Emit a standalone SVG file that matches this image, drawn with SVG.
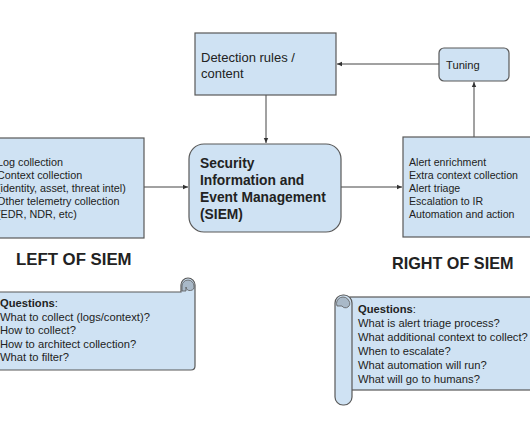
<svg xmlns="http://www.w3.org/2000/svg" width="530" height="442" viewBox="0 0 530 442">
<defs>
<style>
.box{fill:#cfe2f3;stroke:#595959;stroke-width:1.2}
.t{font-family:"Liberation Sans",Arial,sans-serif;fill:#222}
.b{font-weight:bold}
.ln{stroke:#444;stroke-width:1;fill:none}
</style>
<marker id="ah" markerWidth="6" markerHeight="6" refX="5" refY="3" orient="auto" markerUnits="userSpaceOnUse">
<path d="M0,0.8 L5,3 L0,5.2 Z" fill="#333"/>
</marker>
</defs>
<rect width="530" height="442" fill="#fff"/>
<g id="connectors">
<line class="ln" x1="439" y1="64" x2="337" y2="64" marker-end="url(#ah)"/>
<line class="ln" x1="266" y1="95" x2="266" y2="143" marker-end="url(#ah)"/>
<line class="ln" x1="144" y1="187" x2="188" y2="187" marker-end="url(#ah)"/>
<line class="ln" x1="341" y1="187" x2="402" y2="187" marker-end="url(#ah)"/>
<line class="ln" x1="474" y1="137" x2="474" y2="82" marker-end="url(#ah)"/>
</g>
<g id="detection">
<rect class="box" x="195" y="33" width="141" height="62"/>
<text class="t" x="201" y="62" font-size="13">Detection rules /</text>
<text class="t" x="201" y="78" font-size="13">content</text>
</g>
<g id="tuning">
<rect class="box" x="439" y="48" width="70" height="33" rx="5"/>
<text class="t" x="446" y="69" font-size="11.2">Tuning</text>
</g>
<g id="siem">
<rect class="box" x="189" y="144" width="152" height="88" rx="15"/>
<text class="t b" x="200" y="168" font-size="13.8">Security</text>
<text class="t b" x="200" y="185" font-size="13.8">Information and</text>
<text class="t b" x="200" y="202" font-size="13.8">Event Management</text>
<text class="t b" x="200" y="219" font-size="13.8">(SIEM)</text>
</g>
<g id="left">
<rect class="box" x="-10" y="138" width="154" height="100"/>
<g class="t" font-size="10.8">
<text x="-3" y="166">Log collection</text>
<text x="-3" y="179">Context collection</text>
<text x="-3" y="192">(identity, asset, threat intel)</text>
<text x="-3" y="205">Other telemetry collection</text>
<text x="-3" y="218">(EDR, NDR, etc)</text>
</g>
</g>
<g id="right">
<rect class="box" x="403" y="137" width="140" height="100"/>
<g class="t" font-size="10.6">
<text x="409" y="166">Alert enrichment</text>
<text x="409" y="179">Extra context collection</text>
<text x="409" y="192">Alert triage</text>
<text x="409" y="205">Escalation to IR</text>
<text x="409" y="218">Automation and action</text>
</g>
</g>
<g id="left-title">
<text class="t b" x="16" y="265" font-size="16.8" fill="#000">LEFT OF SIEM</text>
</g>
<g id="right-title">
<text class="t b" x="392" y="269" font-size="16.2">RIGHT OF SIEM</text>
</g>
<g id="left-questions">
<path class="box" d="M-10 292 H181 V285 A7 7 0 0 1 195 285 V366 Q195 370 191 370 H-10 Z"/>
<path d="M182 291 V286 A6 6 0 0 1 194 286 A4 4 0 0 1 186 287 V291 Z" fill="#a9b9c8" stroke="#595959" stroke-width="0.8"/>
<g class="t" font-size="11.2">
<text x="0" y="307"><tspan class="b">Questions</tspan>:</text>
<text x="0" y="321">What to collect (logs/context)?</text>
<text x="0" y="334">How to collect?</text>
<text x="0" y="348">How to architect collection?</text>
<text x="0" y="361">What to filter?</text>
</g>
</g>
<g id="right-questions">
<rect class="box" x="350" y="297" width="195" height="93"/>
<rect class="box" x="335" y="295" width="17" height="110" rx="8"/>
<path d="M337 306 A6 6 0 0 1 349 301 A4 4 0 0 1 342 306 Z" fill="#a9b9c8" stroke="#595959" stroke-width="0.8"/>
<g class="t" font-size="11.2">
<text x="358" y="313"><tspan class="b">Questions</tspan>:</text>
<text x="358" y="327">What is alert triage process?</text>
<text x="358" y="341">What additional context to collect?</text>
<text x="358" y="355">When to escalate?</text>
<text x="358" y="369">What automation will run?</text>
<text x="358" y="383">What will go to humans?</text>
</g>
</g>
</svg>
